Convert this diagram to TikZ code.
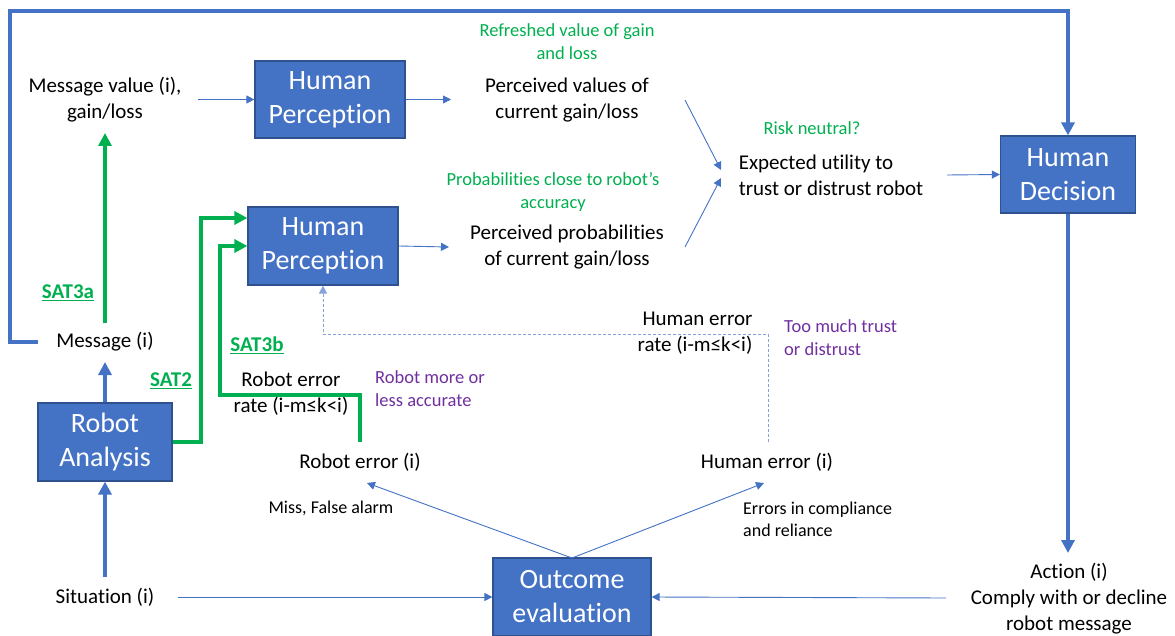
\documentclass[tikz,border=0pt]{standalone}
\usepackage{fontspec}
\setmainfont{Carlito}[Ligatures=NoCommon]
\usetikzlibrary{arrows.meta}
\definecolor{obl}{HTML}{4472C4}
\definecolor{obd}{HTML}{2F528F}
\definecolor{ogr}{HTML}{00B050}
\definecolor{opu}{HTML}{7030A0}
\begin{document}
\begin{tikzpicture}[x=1pt,y=-1pt,
  blk/.style={draw=obd,line width=1.2pt,fill=obl,text=white,font=\fontsize{28}{34}\selectfont,align=center,inner sep=0pt},
  txt/.style={font=\fontsize{21}{26}\selectfont,align=center,inner sep=0pt},
  sml/.style={font=\fontsize{18.5}{23}\selectfont,align=center,inner sep=0pt},
  grn/.style={sml,text=ogr},
  pur/.style={sml,text=opu,align=left},
  sat/.style={font=\fontsize{21}{26}\selectfont\bfseries,text=ogr,inner sep=0pt},
  thinarr/.style={draw=obl,line width=0.9pt,-{Triangle[length=8pt,width=8pt]}},
  thickarr/.style={draw=obl,line width=4pt,-{Triangle[length=13pt,width=13pt]}},
  greenarr/.style={draw=ogr,line width=4pt,-{Triangle[length=13pt,width=13pt]}},
  dashln/.style={draw=obl!65,line width=0.9pt,dash pattern=on 3pt off 2pt,-{Triangle[length=8pt,width=8pt]}}
]
\useasboundingbox[fill=white] (0,0) rectangle (1175,636);

% boxes
\node[blk,minimum width=150pt,minimum height=77pt] (hp1) at (330,99.5) {Human\\Perception};
\node[blk,minimum width=150pt,minimum height=78pt] (hp2) at (323,246) {Human\\Perception};
\node[blk,minimum width=135pt,minimum height=77pt] (hd) at (1068,174.5) {Human\\Decision};
\node[blk,minimum width=134pt,minimum height=78pt] (ra) at (105,442) {Robot\\Analysis};
\node[blk,minimum width=158pt,minimum height=78pt] (oe) at (572,597) {Outcome\\evaluation};

% black texts
\node[txt] (mv) at (105,100) {Message value (i),\\gain/loss};
\node[txt] (pv) at (567,100) {Perceived values of\\current gain/loss};
\node[txt] (pp) at (567,247) {Perceived probabilities\\of current gain/loss};
\node[txt,align=left] (eu) at (831,175) {Expected utility to\\trust or distrust robot};
\node[txt] (msg) at (105,342) {Message (i)};
\node[txt] (sit) at (105,597) {Situation (i)};
\node[txt] (rer) at (291,394) {Robot error\\rate (i-m≤k<i)};
\node[txt] (re) at (360,462) {Robot error (i)};
\node[txt] (he) at (767,462) {Human error (i)};
\node[txt,align=right] (her) at (695,333) {Human error\\rate (i-m≤k<i)};
\node[txt] (act) at (1069,599) {Action (i)\\Comply with or decline\\robot message};

% small texts
\node[grn] (gr1) at (567,42) {Refreshed value of gain\\and loss};
\node[grn] (gr2) at (553,192) {Probabilities close to robot’s\\accuracy};
\node[grn] (gr3) at (812,128) {Risk neutral?};
\node[pur,anchor=west] (pu1) at (375,389) {Robot more or\\less accurate};
\node[pur,anchor=west] (pu2) at (784,338) {Too much trust\\or distrust};
\node[sml,font=\fontsize{18}{22}\selectfont] (mfa) at (331,508) {Miss, False alarm};
\node[sml,font=\fontsize{18}{22}\selectfont,align=left,anchor=west] (ecr) at (743,519) {Errors in compliance\\and reliance};

% SAT labels
\node[sat] (s3a) at (68,293) {\underline{SAT3a}};
\node[sat] (s2) at (171,381) {\underline{SAT2}};
\node[sat] (s3b) at (257,345) {\underline{SAT3b}};

% coordinates for free ends
\coordinate (mvR) at (198,99.5);
\coordinate (pvR) at (685,100);
\coordinate (ppR) at (685,247);
\coordinate (euIn1) at (721,170);
\coordinate (euIn2) at (721,178);
\coordinate (euR) at (947,175);
\coordinate (ppL) at (449,247);
\coordinate (pvL) at (451,99.5);
\coordinate (actL) at (946,598);
\coordinate (sitR) at (178,597);
\coordinate (oeTop) at (572,558);
\coordinate (reIn) at (367,483);
\coordinate (heIn) at (764,483);
\coordinate (reTop) at (360,442);
\coordinate (heTop) at (768,442);
\coordinate (msgL) at (38,342);
\coordinate (msgTop) at (105,323);
\coordinate (mvBot) at (105,133);
\coordinate (msgBot) at (105,362);
\coordinate (sitTop) at (105,577);
\coordinate (hdBot) at (1068,553);

% thin arrows
\draw[thinarr] (mvR) -- (hp1.west);
\draw[thinarr] (hp1.east) -- (pvL);
\draw[thinarr] (hp2.east) -- (ppL);
\draw[thinarr] (pvR) -- (euIn1);
\draw[thinarr] (ppR) -- (euIn2);
\draw[thinarr] (euR) -- (hd.west);
\draw[thinarr] (sitR) -- (oe.west);
\draw[thinarr] (actL) -- (oe.east);
\draw[thinarr] (oeTop) -- (reIn);
\draw[thinarr] (oeTop) -- (heIn);

% dashed feedback
\draw[dashln] (heTop) |- (323,334) -- (hp2.south);

% thick blue arrows
\draw[thickarr] (sitTop) -- (ra.south);
\draw[thickarr] (ra.north) -- (msgBot);
\draw[thickarr] (hd.south) -- (hdBot);
\draw[thickarr] (msgL) -- (10,342) |- (1068,11) -- (hd.north);

% green arrows
\draw[greenarr] (msgTop) -- (mvBot);
\draw[greenarr] (ra.east |- 0,442) -- (201,442) |- (hp2.west |- 0,218);
\draw[greenarr] (reTop) |- (220,395) |- (hp2.west);
\end{tikzpicture}
\end{document}
